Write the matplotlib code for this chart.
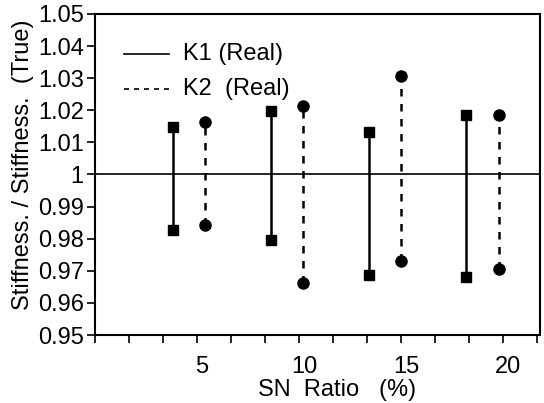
import matplotlib
matplotlib.use("Agg")
import matplotlib.pyplot as plt
from matplotlib.lines import Line2D
import matplotlib.transforms as mtransforms

plt.rcParams['font.family'] = ['Liberation Sans', 'DejaVu Sans']

sn_labels = ["5", "10", "15", "20"]
k1_x = [3.8, 8.6, 13.4, 18.2]
k2_x = [5.4, 10.2, 15.0, 19.8]
k1_top = [1.0148, 1.0197, 1.0131, 1.0184]
k1_bot = [0.9828, 0.9797, 0.9686, 0.9682]
k2_top = [1.0164, 1.0213, 1.0307, 1.0184]
k2_bot = [0.9844, 0.9662, 0.9730, 0.9706]
yticks = [0.95, 0.96, 0.97, 0.98, 0.99, 1.0, 1.01, 1.02, 1.03, 1.04, 1.05]
ytick_labels = ["0.95", "0.96", "0.97", "0.98", "0.99", "1", "1.01", "1.02", "1.03", "1.04", "1.05"]

FS = 17

fig = plt.figure(figsize=(5.44, 4.03), dpi=100)
ax = fig.add_axes([0.1746, 0.1687, 0.818, 0.7966])

ax.axhline(1.0, color='black', lw=1.2)

for x, t, b in zip(k1_x, k1_top, k1_bot):
    ax.plot([x, x], [b, t], color='black', lw=1.8, solid_capstyle='butt')
    ax.plot([x, x], [b, t], ls='none', marker='s', ms=7.5, color='black')
for x, t, b in zip(k2_x, k2_top, k2_bot):
    ax.plot([x, x], [b, t], color='black', lw=1.8, ls=(0, (3, 3)))
    ax.plot([x, x], [b, t], ls='none', marker='o', ms=8, color='black')

ax.set_xlim(0, 21.8)
ax.set_ylim(0.95, 1.05)
ax.set_yticks(yticks)
ax.set_yticklabels(ytick_labels)

step = 5.0 / 3.0
xt = [step * k for k in range(14)]
ax.set_xticks(xt)
lab = [''] * 14
for i, s in zip([3, 6, 9, 12], sn_labels):
    lab[i] = s
ax.set_xticklabels(lab)

ax.tick_params(axis='both', direction='out', labelsize=FS, width=1.2, color='black')
ax.tick_params(axis='y', length=6, pad=2)
ax.tick_params(axis='x', length=6, pad=9)
off = mtransforms.ScaledTranslation(0.05, 0, fig.dpi_scale_trans)
for t in ax.get_xticklabels():
    t.set_transform(t.get_transform() + off)
for sp in ax.spines.values():
    sp.set_linewidth(1.5)

ax.set_ylabel("Stiffness. / Stiffness.  (True)", fontsize=FS, va='center')
ax.yaxis.set_label_coords(-0.162, 0.53)
ax.set_xlabel("SN  Ratio   (%)", fontsize=FS, va='top')
ax.xaxis.set_label_coords(0.545, -0.138)

# legend
ax.add_line(Line2D([0.066, 0.167], [0.875, 0.875], transform=ax.transAxes, color='black', lw=1.2))
ax.text(0.197, 0.875, "K1 (Real)", transform=ax.transAxes, fontsize=FS, va='center')
ax.add_line(Line2D([0.066, 0.167], [0.765, 0.765], transform=ax.transAxes, color='black', lw=1.2, ls=(0, (3, 3))))
ax.text(0.197, 0.765, "K2  (Real)", transform=ax.transAxes, fontsize=FS, va='center')

fig.savefig("out.png", dpi=100)
